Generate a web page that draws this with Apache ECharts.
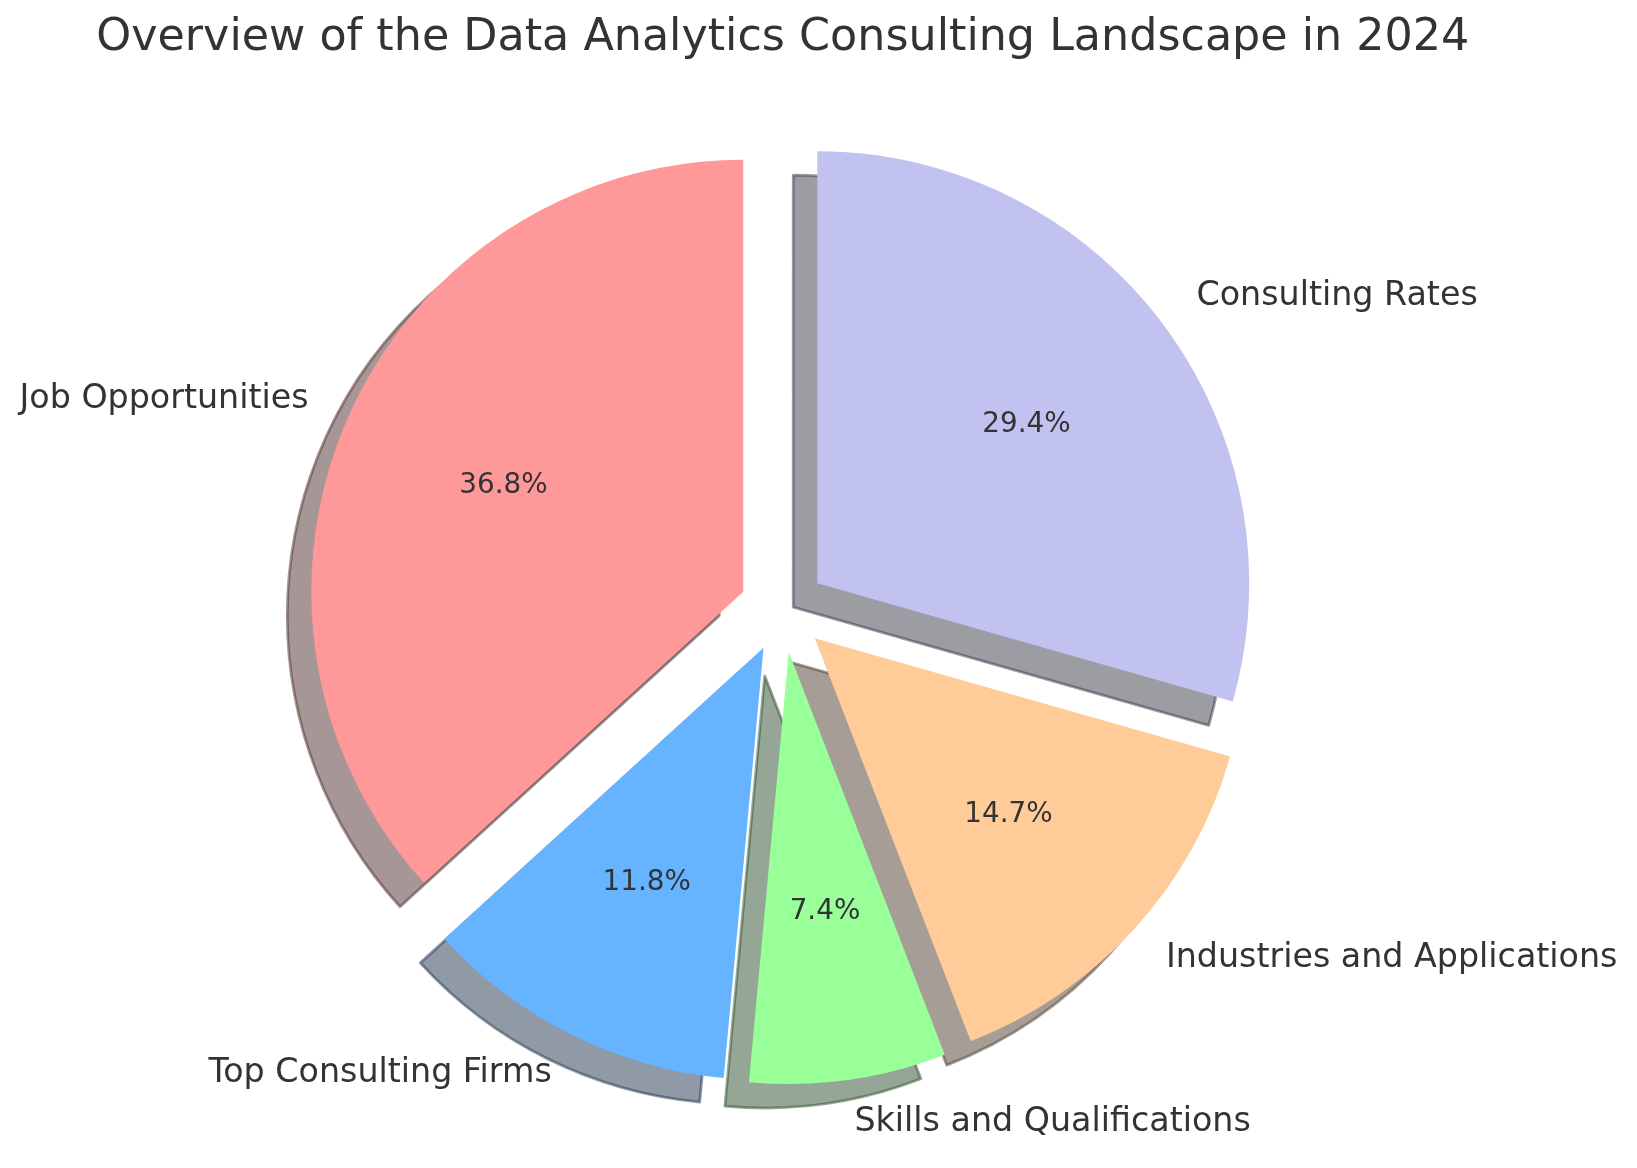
<!DOCTYPE html>
<html>
<head>
<meta charset="utf-8">
<script src="https://cdn.jsdelivr.net/npm/echarts@6/dist/echarts.min.js"></script>
<style>
html,body{margin:0;padding:0;background:#ffffff;}
#chart{width:1637px;height:1168px;}
</style>
</head>
<body>
<div id="chart"></div>
<script>
// ---- data ----
const titleText = 'Overview of the Data Analytics Consulting Landscape in 2024';
const categories = ['Job Opportunities', 'Top Consulting Firms', 'Skills and Qualifications', 'Industries and Applications', 'Consulting Rates'];
const values = [25, 8, 5, 10, 20];
const colors = ['#ff9999', '#66b3ff', '#99ff99', '#ffcc99', '#c2c2f0'];

// ---- layout / style ----
const FONT = 'DejaVu Sans';
const CX = 782.8, CY = 609.2, R = 432;
const EXPLODE = 0.1 * R;
const SHADOW = 24;
const total = values.reduce((a, b) => a + b, 0);

function shadowColor(hex) {
  const r = Math.round(parseInt(hex.slice(1, 3), 16) * 0.3);
  const g = Math.round(parseInt(hex.slice(3, 5), 16) * 0.3);
  const b = Math.round(parseInt(hex.slice(5, 7), 16) * 0.3);
  return 'rgba(' + r + ',' + g + ',' + b + ',0.5)';
}

const shadowData = categories.map((c, i) => ({
  name: c, value: values[i], selected: true,
  itemStyle: { color: shadowColor(colors[i]), borderColor: shadowColor(colors[i]), borderWidth: 2.8 }
}));
const mainData = categories.map((c, i) => ({
  name: c, value: values[i], selected: true,
  itemStyle: { color: colors[i], borderWidth: 0 }
}));
const pctData = categories.map((c, i) => ({
  name: c, value: values[i], selected: true,
  itemStyle: { color: 'rgba(0,0,0,0)', borderWidth: 0 }
}));

const common = {
  type: 'pie',
  startAngle: 90,
  clockwise: false,
  selectedMode: 'multiple',
  selectedOffset: EXPLODE,
  avoidLabelOverlap: false,
  emphasis: { disabled: true, scale: false },
  select: { disabled: false },
  animation: false
};

const chart = echarts.init(document.getElementById('chart'));
chart.setOption({
  backgroundColor: '#ffffff',
  animation: false,
  graphic: [{
    type: 'text',
    x: CX, y: 38.5,
    style: {
      text: titleText,
      fill: '#333333',
      font: 'normal 44.4px "' + FONT + '"',
      align: 'center',
      verticalAlign: 'middle'
    }
  }],
  series: [
    Object.assign({}, common, {
      name: 'shadow',
      z: 1,
      silent: true,
      center: [CX - SHADOW, CY + SHADOW],
      radius: R,
      label: { show: false },
      labelLine: { show: false },
      data: shadowData
    }),
    Object.assign({}, common, {
      name: 'main',
      z: 2,
      center: [CX, CY],
      radius: R,
      label: {
        show: true,
        position: 'outside',
        distanceToLabelLine: 0,
        fontFamily: FONT,
        fontSize: 33.3,
        color: '#333333',
        formatter: '{b}'
      },
      labelLine: { show: false, length: 0.1 * R, length2: 0 },
      data: mainData
    }),
    Object.assign({}, common, {
      name: 'pct',
      z: 3,
      silent: true,
      center: [CX, CY],
      radius: [0, 1.2 * R],
      label: {
        show: true,
        position: 'inside',
        fontFamily: FONT,
        fontSize: 27.8,
        color: '#333333',
        formatter: function (p) { return (p.value / total * 100).toFixed(1) + '%'; }
      },
      labelLine: { show: false },
      data: pctData
    })
  ]
});
</script>
</body>
</html>
